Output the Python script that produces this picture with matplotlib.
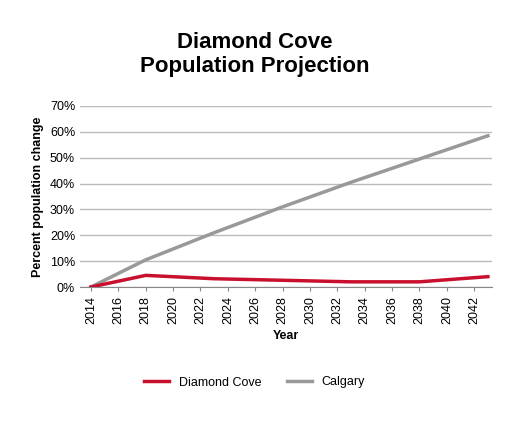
import matplotlib
matplotlib.use("Agg")
import matplotlib.pyplot as plt
from matplotlib.ticker import PercentFormatter

plt.rcParams['font.family'] = ['Liberation Sans', 'DejaVu Sans']

years = [2014, 2018, 2023, 2028, 2033, 2038, 2043]
diamond_cove = [0.0, 4.5, 3.2, 2.6, 2.0, 2.0, 4.0]
calgary = [0.0, 10.5, 21.0, 31.0, 40.5, 49.5, 58.5]
xticks = list(range(2014, 2043, 2))

fig = plt.figure(figsize=(5.09, 4.25), dpi=100)
ax = fig.add_axes([80/509, 1-287/425, (492-80)/509, (287-106)/425])
ax.plot(years, diamond_cove, color='#c8102e', lw=2.5, label='Diamond Cove', zorder=3)
ax.plot(years, calgary, color='#999999', lw=2.5, label='Calgary', zorder=2)
ax.set_xlim(2013.2, 2043.3)
ax.set_ylim(0, 70)
ax.set_yticks(range(0, 71, 10))
ax.yaxis.set_major_formatter(PercentFormatter(decimals=0))
ax.set_xticks(xticks)
ax.set_xticklabels([str(x) for x in xticks], rotation=90, fontsize=9)
ax.tick_params(axis='y', labelsize=9, length=0)
ax.tick_params(axis='x', length=3, color='#888888')
ax.grid(axis='y', color='#bbbbbb', lw=1)
ax.set_axisbelow(True)
for s in ['top', 'right', 'left']:
    ax.spines[s].set_visible(False)
ax.spines['bottom'].set_color('#888888')
ax.set_xlabel('Year', fontsize=9, fontweight='bold')
ax.set_ylabel('Percent population change', fontsize=9, fontweight='bold')
fig.suptitle('Diamond Cove\nPopulation Projection', fontsize=16, fontweight='bold', y=0.925)
fig.legend(loc='center', bbox_to_anchor=(0.5, 0.1), ncol=2, frameon=False, fontsize=9)
fig.savefig('out.png', dpi=100)
